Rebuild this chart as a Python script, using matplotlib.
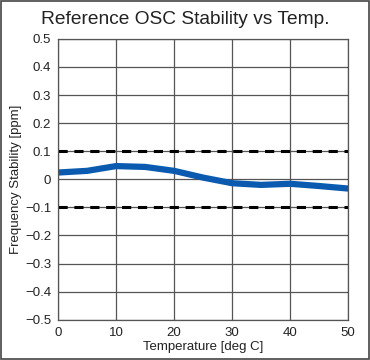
import matplotlib
matplotlib.use("Agg")
import matplotlib.pyplot as plt
from matplotlib.patches import Rectangle

plt.rcParams['font.family'] = ['Liberation Sans', 'DejaVu Sans']

temps = [0, 5, 10, 15, 20, 25, 30, 35, 40, 45, 50]
stability = [0.024, 0.030, 0.047, 0.044, 0.030, 0.006, -0.014, -0.020, -0.016, -0.024, -0.033]
limits = [0.1, -0.1]
xticks = [0, 10, 20, 30, 40, 50]
yticks = [-0.5, -0.4, -0.3, -0.2, -0.1, 0, 0.1, 0.2, 0.3, 0.4, 0.5]
ytick_labels = ['−0.5', '−0.4', '−0.3', '−0.2', '−0.1', '0', '0.1', '0.2', '0.3', '0.4', '0.5']

fig = plt.figure(figsize=(3.7, 3.6), dpi=100)
ax = fig.add_axes([0.157, 0.112, 0.784, 0.78])
fig.patches.append(Rectangle((0.0015, 0.0015), 0.997, 0.997, transform=fig.transFigure,
                             fill=False, edgecolor='#444444', linewidth=1.2))

ax.set_xlim(0, 50)
ax.set_ylim(-0.5, 0.5)
ax.set_xticks(xticks)
ax.set_yticks(yticks)
ax.set_yticklabels(ytick_labels)
ax.grid(True, color='#555555', linewidth=0.9)
ax.set_axisbelow(True)
for s in ax.spines.values():
    s.set_color('#555555')
    s.set_linewidth(0.9)
ax.tick_params(length=0, labelsize=9.5, colors='#222222', pad=5)

for lim in limits:
    ax.axhline(lim, color='black', linewidth=2.2, linestyle=(0, (3, 2.2)))
ax.plot(temps, stability, color='#0a5bb0', linewidth=4.5, solid_capstyle='butt')

ax.set_xlabel('Temperature [deg C]', fontsize=9.5, color='#222222', labelpad=2)
ax.set_ylabel('Frequency Stability [ppm]', fontsize=9.5, color='#222222', labelpad=2)
fig.text(0.5, 0.945, 'Reference OSC Stability vs Temp.', ha='center', va='center',
         fontsize=13.8, color='#222222')

fig.savefig('out.png', dpi=100)
